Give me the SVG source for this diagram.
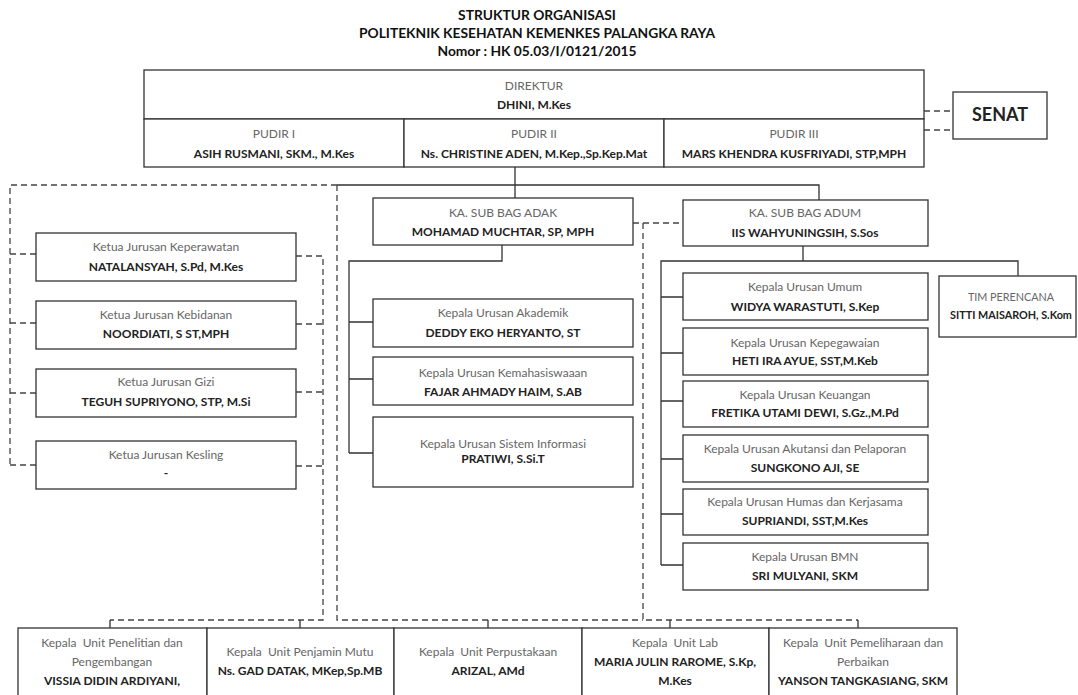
<svg xmlns="http://www.w3.org/2000/svg" width="1078" height="695" viewBox="0 0 1078 695">
<style>
text{font-family:Lato,"Open Sans","Liberation Sans",sans-serif;text-anchor:middle;font-size:12px}
.t{font-weight:bold;font-size:13.8px;fill:#111}
.l{fill:#666}
.n{font-weight:bold;fill:#222}
.sm{font-size:10.8px}
.b{fill:#fff;stroke:#333;stroke-width:1.3}
.s{fill:none;stroke:#333;stroke-width:1.3}
.d{fill:none;stroke:#444;stroke-width:1.3;stroke-dasharray:6 4}
.senat{font-weight:bold;font-size:18px;fill:#222}
</style>
<rect width="1078" height="695" fill="#fff"/>
<g id="title">
<text class="t" x="537" y="20">STRUKTUR ORGANISASI</text>
<text class="t" x="537" y="38">POLITEKNIK KESEHATAN KEMENKES PALANGKA RAYA</text>
<text class="t" x="537" y="56">Nomor : HK 05.03/I/0121/2015</text>
</g>
<g id="connectors">
<path class="s" d="M515 167V198M337 185H819V200"/>
<path class="d" d="M337 185H10V465M337 185V620H643M10 254H36M10 323H36M10 393H36M10 465H36"/>
<path class="d" d="M296 256H323V620H110M296 324H323M296 392H323M296 466H323"/>
<path class="d" d="M633 223H683M643 223V620H858"/>
<path class="s" d="M110 620V628M300 620V628M488 620V628M670 620V628M858 620V628"/>
<path class="d" d="M924 111H953M924 130H953"/>
<path class="s" d="M502 245V261H349V453M349 322H373M349 379H373M349 453H373"/>
<path class="s" d="M803 246V261H661V565M803 261H1018V276M661 297H683M661 353H683M661 401H683M661 459H683M661 514H683M661 565H683"/>
</g>
<g id="direktur">
<rect class="b" x="144" y="70" width="780" height="49"/>
<text class="l" x="534" y="90">DIREKTUR</text>
<text class="n" x="534" y="109">DHINI, M.Kes</text>
</g>
<g id="pudir1">
<rect class="b" x="144" y="119" width="260" height="48"/>
<text class="l" x="274" y="138">PUDIR I</text>
<text class="n" x="274" y="158">ASIH RUSMANI, SKM., M.Kes</text>
</g>
<g id="pudir2">
<rect class="b" x="404" y="119" width="260" height="48"/>
<text class="l" x="534" y="138">PUDIR II</text>
<text class="n" x="534" y="158">Ns. CHRISTINE ADEN, M.Kep.,Sp.Kep.Mat</text>
</g>
<g id="pudir3">
<rect class="b" x="664" y="119" width="260" height="48"/>
<text class="l" x="794" y="138">PUDIR III</text>
<text class="n" x="794" y="158">MARS KHENDRA KUSFRIYADI, STP,MPH</text>
</g>
<g id="senat">
<rect class="b" x="953" y="92" width="94" height="47"/>
<text class="senat" x="1000" y="121">SENAT</text>
</g>
<g id="keperawatan">
<rect class="b" x="36" y="233" width="260" height="48"/>
<text class="l" x="166" y="251">Ketua Jurusan Keperawatan</text>
<text class="n" x="166" y="271">NATALANSYAH, S.Pd, M.Kes</text>
</g>
<g id="kebidanan">
<rect class="b" x="36" y="301" width="260" height="48"/>
<text class="l" x="166" y="319">Ketua Jurusan Kebidanan</text>
<text class="n" x="166" y="338">NOORDIATI, S ST,MPH</text>
</g>
<g id="gizi">
<rect class="b" x="36" y="369" width="260" height="48"/>
<text class="l" x="166" y="386">Ketua Jurusan Gizi</text>
<text class="n" x="166" y="406">TEGUH SUPRIYONO, STP, M.Si</text>
</g>
<g id="kesling">
<rect class="b" x="36" y="441" width="260" height="48"/>
<text class="l" x="166" y="459">Ketua Jurusan Kesling</text>
<text class="n" x="166" y="477">-</text>
</g>
<g id="adak">
<rect class="b" x="373" y="198" width="260" height="47"/>
<text class="l" x="503" y="217">KA. SUB BAG ADAK</text>
<text class="n" x="503" y="236">MOHAMAD MUCHTAR, SP, MPH</text>
</g>
<g id="akademik">
<rect class="b" x="373" y="299" width="260" height="48"/>
<text class="l" x="503" y="317">Kepala Urusan Akademik</text>
<text class="n" x="503" y="337">DEDDY EKO HERYANTO, ST</text>
</g>
<g id="kemahasiswaan">
<rect class="b" x="373" y="357" width="260" height="48"/>
<text class="l" x="503" y="377">Kepala Urusan Kemahasiswaaan</text>
<text class="n" x="503" y="396">FAJAR AHMADY HAIM, S.AB</text>
</g>
<g id="sisteminformasi">
<rect class="b" x="373" y="417" width="260" height="70"/>
<text class="l" x="503" y="448">Kepala Urusan Sistem Informasi</text>
<text class="n" x="503" y="463">PRATIWI, S.Si.T</text>
</g>
<g id="adum">
<rect class="b" x="683" y="200" width="245" height="46"/>
<text class="l" x="805" y="217">KA. SUB BAG ADUM</text>
<text class="n" x="805" y="237">IIS WAHYUNINGSIH, S.Sos</text>
</g>
<g id="umum">
<rect class="b" x="683" y="273" width="245" height="47"/>
<text class="l" x="805" y="291">Kepala Urusan Umum</text>
<text class="n" x="805" y="311">WIDYA WARASTUTI, S.Kep</text>
</g>
<g id="kepegawaian">
<rect class="b" x="683" y="328" width="245" height="47"/>
<text class="l" x="805" y="347">Kepala Urusan Kepegawaian</text>
<text class="n" x="805" y="365">HETI IRA AYUE, SST,M.Keb</text>
</g>
<g id="keuangan">
<rect class="b" x="683" y="381" width="245" height="46"/>
<text class="l" x="805" y="399">Kepala Urusan Keuangan</text>
<text class="n" x="805" y="417">FRETIKA UTAMI DEWI, S.Gz.,M.Pd</text>
</g>
<g id="akutansi">
<rect class="b" x="683" y="435" width="245" height="47"/>
<text class="l" x="805" y="453">Kepala Urusan Akutansi dan Pelaporan</text>
<text class="n" x="805" y="472">SUNGKONO AJI, SE</text>
</g>
<g id="humas">
<rect class="b" x="683" y="489" width="245" height="46"/>
<text class="l" x="805" y="506">Kepala Urusan Humas dan Kerjasama</text>
<text class="n" x="805" y="525">SUPRIANDI, SST,M.Kes</text>
</g>
<g id="bmn">
<rect class="b" x="683" y="543" width="245" height="47"/>
<text class="l" x="805" y="561">Kepala Urusan BMN</text>
<text class="n" x="805" y="580">SRI MULYANI, SKM</text>
</g>
<g id="timperencana">
<rect class="b" x="939" y="276" width="137" height="61"/>
<text class="l sm" x="1011" y="301">TIM PERENCANA</text>
<text class="n sm" x="1011" y="319">SITTI MAISAROH, S.Kom</text>
</g>
<g id="penelitian">
<rect class="b" x="18" y="628" width="189" height="75"/>
<text class="l" x="112" y="647" xml:space="preserve">Kepala  Unit Penelitian dan</text>
<text class="l" x="112" y="666">Pengembangan</text>
<text class="n" x="112" y="685">VISSIA DIDIN ARDIYANI,</text>
</g>
<g id="penjaminmutu">
<rect class="b" x="207" y="628" width="187" height="75"/>
<text class="l" x="300" y="656" xml:space="preserve">Kepala  Unit Penjamin Mutu</text>
<text class="n" x="300" y="675">Ns. GAD DATAK, MKep,Sp.MB</text>
</g>
<g id="perpustakaan">
<rect class="b" x="394" y="628" width="188" height="75"/>
<text class="l" x="488" y="656" xml:space="preserve">Kepala  Unit Perpustakaan</text>
<text class="n" x="488" y="675">ARIZAL, AMd</text>
</g>
<g id="lab">
<rect class="b" x="582" y="628" width="187" height="75"/>
<text class="l" x="675" y="647" xml:space="preserve">Kepala  Unit Lab</text>
<text class="n" x="675" y="666">MARIA JULIN RAROME, S.Kp,</text>
<text class="n" x="675" y="685">M.Kes</text>
</g>
<g id="pemeliharaan">
<rect class="b" x="769" y="628" width="188" height="75"/>
<text class="l" x="863" y="647" xml:space="preserve">Kepala  Unit Pemeliharaan dan</text>
<text class="l" x="863" y="666">Perbaikan</text>
<text class="n" x="863" y="685">YANSON TANGKASIANG, SKM</text>
</g>
</svg>
